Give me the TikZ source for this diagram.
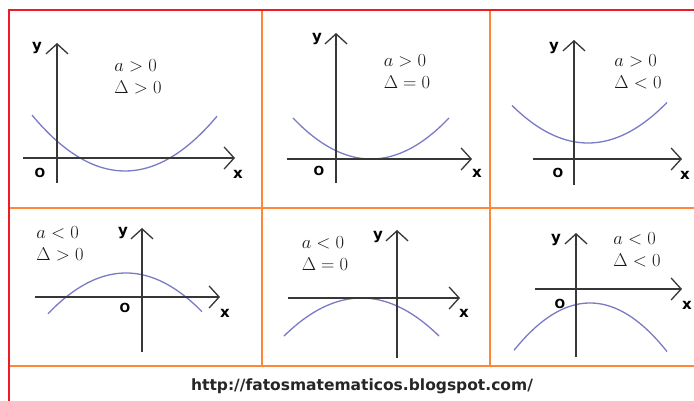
\RequirePackage{fix-cm}
\documentclass[tikz,border=0pt]{standalone}
\usepackage{fontspec}
\usepackage{amsmath}
\usepackage{tikz}
\usetikzlibrary{arrows.meta}
\newfontfamily\labelfont{DejaVu Sans}
\definecolor{framered}{RGB}{237,28,36}
\definecolor{gridorange}{RGB}{255,136,56}
\definecolor{curveblue}{RGB}{122,122,198}
\definecolor{axisgray}{RGB}{55,55,55}
\definecolor{textgray}{RGB}{25,25,25}

\begin{document}
\begin{tikzpicture}[x=1pt, y=-1pt,
    axis/.style={draw=axisgray, line width=1.3pt, -{Straight Barb[length=10pt,width=22pt]}},
    curve/.style={draw=curveblue, line width=1.3pt, smooth, samples=50},
    lbl/.style={font=\labelfont\bfseries\fontsize{15}{15}\selectfont, inner sep=0pt},
    orig/.style={font=\labelfont\bfseries\fontsize{12.5}{13}\selectfont, inner sep=0pt},
    cond/.style={font=\fontsize{18.5}{22}\selectfont, text=textgray, align=left, inner sep=0pt},
    frame/.style={draw=framered, line width=2pt},
    grid/.style={draw=gridorange, line width=2pt}
]
    \useasboundingbox (0,0) rectangle (694,401);
    \fill[white] (0,0) rectangle (694,401);

    \draw[grid] (262,10) -- (262,366);
    \draw[grid] (490,10) -- (490,366);
    \draw[grid] (9,208) -- (694,208);
    \draw[grid] (9,366) -- (694,366);
    \draw[frame] (694,10) -- (9,10) -- (9,401);

    % a > 0, delta > 0
    \draw[curve] plot[domain=32:217] (\x,{171-0.00647*(\x-125)^2});
    \draw[axis] (23,158) -- (235,158);
    \draw[axis] (57,183) -- (57,43);
    \node[lbl] (y1) at (37,48) {y};
    \node[orig] (o1) at (40,173) {O};
    \node[lbl] (x1) at (238,174) {x};
    \node[cond] (c1) at (138,77) {$a>0$\\$\Delta>0$};

    % a > 0, delta = 0
    \draw[curve] plot[domain=293:449] (\x,{159-0.00674*(\x-371)^2});
    \draw[axis] (287,159) -- (472,159);
    \draw[axis] (336,183) -- (336,33);
    \node[lbl] (y2) at (317,39) {y};
    \node[orig] (o2) at (319,171) {O};
    \node[lbl] (x2) at (477,173) {x};
    \node[cond] (c2) at (407,72) {$a>0$\\$\Delta=0$};

    % a > 0, delta < 0
    \draw[curve] plot[domain=512:667] (\x,{143-0.0065*(\x-588)^2});
    \draw[axis] (533,159) -- (682,159);
    \draw[axis] (574,185) -- (574,40);
    \node[lbl] (y3) at (554,48) {y};
    \node[orig] (o3) at (558,173) {O};
    \node[lbl] (x3) at (685,175) {x};
    \node[cond] (c3) at (638,72) {$a>0$\\$\Delta<0$};

    % a < 0, delta > 0
    \draw[curve] plot[domain=48:202] (\x,{273+0.0067*(\x-126)^2});
    \draw[axis] (35,297) -- (220,297);
    \draw[axis] (142,352) -- (142,228);
    \node[lbl] (y4) at (123,233) {y};
    \node[orig] (o4) at (125,308) {O};
    \node[lbl] (x4) at (225,313) {x};
    \node[cond] (c4) at (60,244) {$a<0$\\$\Delta>0$};

    % a < 0, delta = 0
    \draw[curve] plot[domain=284:439] (\x,{298+0.00633*(\x-361.5)^2});
    \draw[axis] (288,298) -- (460,298);
    \draw[axis] (397,358) -- (397,230);
    \node[lbl] (y5) at (378,237) {y};
    \node[lbl] (x5) at (464,313) {x};
    \node[cond] (c5) at (325,254) {$a<0$\\$\Delta=0$};

    % a < 0, delta < 0
    \draw[curve] plot[domain=514:667] (\x,{303+0.0082*(\x-590)^2});
    \draw[axis] (535,289) -- (682,289);
    \draw[axis] (576,357) -- (576,233);
    \node[lbl] (y6) at (556,240) {y};
    \node[orig] (o6) at (560,304) {O};
    \node[lbl] (x6) at (687,305) {x};
    \node[cond] (c6) at (637,250) {$a<0$\\$\Delta<0$};

    \node[font=\labelfont\bfseries\fontsize{15.5}{16}\selectfont, text=black!85] (url) at (362,386) {http://fatosmatematicos.blogspot.com/};
\end{tikzpicture}
\end{document}
